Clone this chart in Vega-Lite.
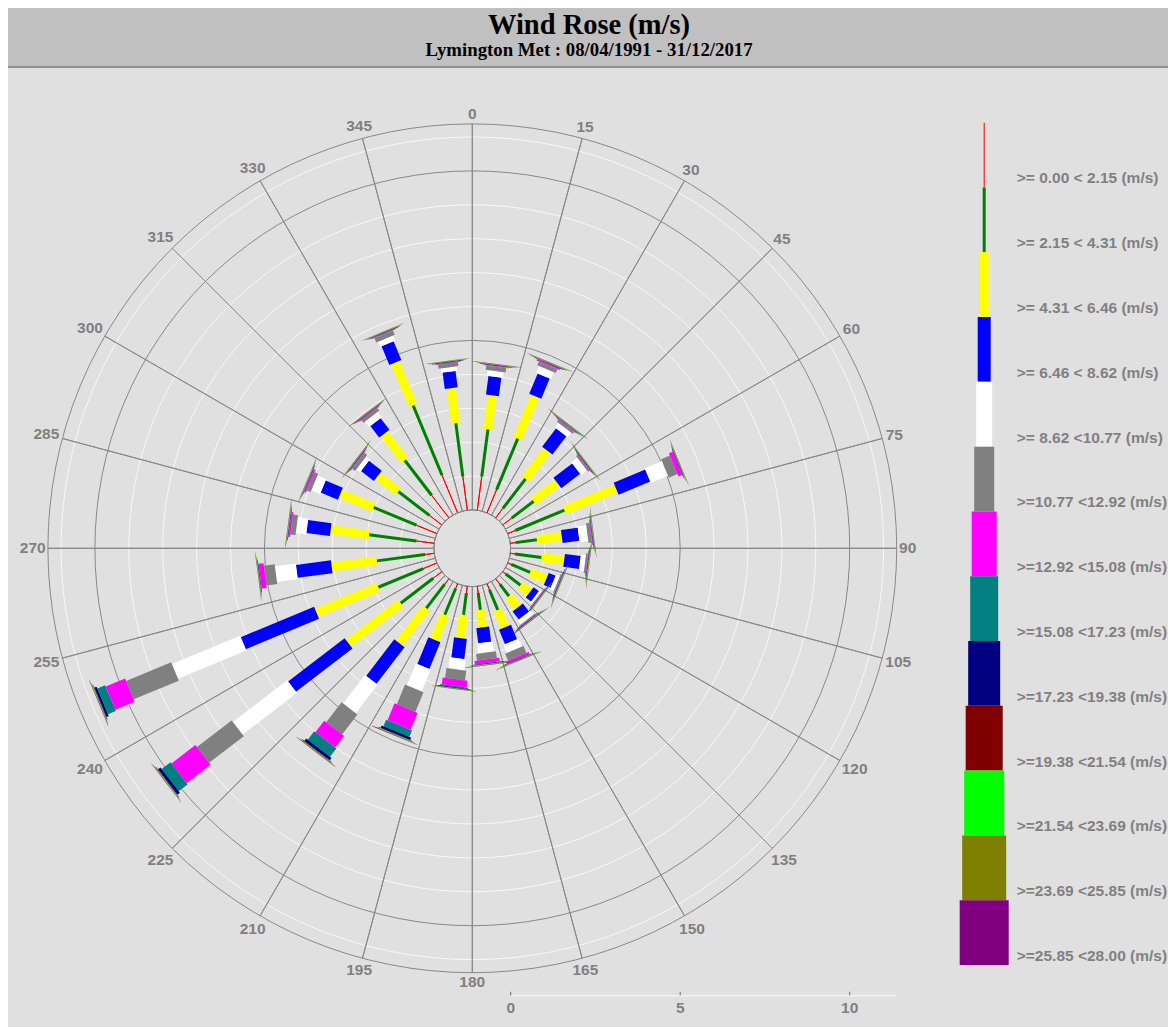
{
  "$schema": "https://vega.github.io/schema/vega-lite/v6.json",
  "width": 1160,
  "height": 1019,
  "padding": {"left": 8, "top": 8, "right": 0, "bottom": 0},
  "autosize": {"type": "none"},
  "background": "#ffffff",
  "config": {"view": {"fill": "#e0e0e0", "stroke": null}},
  "datasets": {
    "spokes": [{"deg":0},{"deg":15},{"deg":30},{"deg":45},{"deg":60},{"deg":75},{"deg":90},{"deg":105},{"deg":120},{"deg":135},{"deg":150},{"deg":165},{"deg":180},{"deg":195},{"deg":210},{"deg":225},{"deg":240},{"deg":255},{"deg":270},{"deg":285},{"deg":300},{"deg":315},{"deg":330},{"deg":345}],
    "minorRings": [{"v":1},{"v":2},{"v":3},{"v":4},{"v":6},{"v":7},{"v":8},{"v":9},{"v":11}],
    "majorRings": [{"v":5},{"v":10},{"v":11.3864}],
    "ticks": [{"v":0},{"v":5},{"v":10}],
    "legend": [
      {"cat":1,"label":">= 0.00 < 2.15 (m/s)"},
      {"cat":2,"label":">= 2.15 < 4.31 (m/s)"},
      {"cat":3,"label":">= 4.31 < 6.46 (m/s)"},
      {"cat":4,"label":">= 6.46 < 8.62 (m/s)"},
      {"cat":5,"label":">= 8.62 <10.77 (m/s)"},
      {"cat":6,"label":">=10.77 <12.92 (m/s)"},
      {"cat":7,"label":">=12.92 <15.08 (m/s)"},
      {"cat":8,"label":">=15.08 <17.23 (m/s)"},
      {"cat":9,"label":">=17.23 <19.38 (m/s)"},
      {"cat":10,"label":">=19.38 <21.54 (m/s)"},
      {"cat":11,"label":">=21.54 <23.69 (m/s)"},
      {"cat":12,"label":">=23.69 <25.85 (m/s)"},
      {"cat":13,"label":">=25.85 <28.00 (m/s)"}
    ],
    "bars": [
      {"dir":7.5,"cat":1,"len":1.0},{"dir":7.5,"cat":2,"len":1.41},{"dir":7.5,"cat":3,"len":1.01},{"dir":7.5,"cat":4,"len":0.55},{"dir":7.5,"cat":5,"len":0.17},{"dir":7.5,"cat":6,"len":0.13},{"dir":7.5,"cat":7,"len":0.02},{"dir":7.5,"cat":8,"len":0.01},{"dir":7.5,"cat":9,"len":0.01},{"dir":7.5,"cat":10,"len":0.01},{"dir":7.5,"cat":11,"len":0.012},{"dir":7.5,"cat":12,"len":0.01},{"dir":7.5,"cat":13,"len":0.006},
      {"dir":22.5,"cat":1,"len":0.74},{"dir":22.5,"cat":2,"len":1.63},{"dir":22.5,"cat":3,"len":1.35},{"dir":22.5,"cat":4,"len":0.65},{"dir":22.5,"cat":5,"len":0.22},{"dir":22.5,"cat":6,"len":0.12},{"dir":22.5,"cat":7,"len":0.04},{"dir":22.5,"cat":8,"len":0.01},{"dir":22.5,"cat":9,"len":0.012},{"dir":22.5,"cat":10,"len":0.01},{"dir":22.5,"cat":11,"len":0.012},{"dir":22.5,"cat":12,"len":0.01},{"dir":22.5,"cat":13,"len":0.006},
      {"dir":37.5,"cat":1,"len":0.35},{"dir":37.5,"cat":2,"len":1.1},{"dir":37.5,"cat":3,"len":1.05},{"dir":37.5,"cat":4,"len":0.68},{"dir":37.5,"cat":5,"len":0.17},{"dir":37.5,"cat":6,"len":0.07},{"dir":37.5,"cat":7,"len":0.02},{"dir":37.5,"cat":8,"len":0.01},{"dir":37.5,"cat":9,"len":0.012},{"dir":37.5,"cat":10,"len":0.01},{"dir":37.5,"cat":11,"len":0.012},{"dir":37.5,"cat":12,"len":0.01},{"dir":37.5,"cat":13,"len":0.006},
      {"dir":52.5,"cat":1,"len":0.33},{"dir":52.5,"cat":2,"len":0.82},{"dir":52.5,"cat":3,"len":0.88},{"dir":52.5,"cat":4,"len":0.7},{"dir":52.5,"cat":5,"len":0.22},{"dir":52.5,"cat":6,"len":0.06},{"dir":52.5,"cat":7,"len":0.02},{"dir":52.5,"cat":8,"len":0.01},{"dir":52.5,"cat":9,"len":0.012},{"dir":52.5,"cat":10,"len":0.01},{"dir":52.5,"cat":11,"len":0.012},{"dir":52.5,"cat":12,"len":0.01},{"dir":52.5,"cat":13,"len":0.006},
      {"dir":67.5,"cat":1,"len":0.24},{"dir":67.5,"cat":2,"len":1.57},{"dir":67.5,"cat":3,"len":1.65},{"dir":67.5,"cat":4,"len":1.01},{"dir":67.5,"cat":5,"len":0.55},{"dir":67.5,"cat":6,"len":0.28},{"dir":67.5,"cat":7,"len":0.12},{"dir":67.5,"cat":8,"len":0.01},{"dir":67.5,"cat":9,"len":0.012},{"dir":67.5,"cat":10,"len":0.01},{"dir":67.5,"cat":11,"len":0.012},{"dir":67.5,"cat":12,"len":0.01},{"dir":67.5,"cat":13,"len":0.006},
      {"dir":82.5,"cat":1,"len":0.15},{"dir":82.5,"cat":2,"len":0.64},{"dir":82.5,"cat":3,"len":0.74},{"dir":82.5,"cat":4,"len":0.5},{"dir":82.5,"cat":5,"len":0.26},{"dir":82.5,"cat":6,"len":0.1},{"dir":82.5,"cat":7,"len":0.02},{"dir":82.5,"cat":8,"len":0.01},{"dir":82.5,"cat":9,"len":0.012},{"dir":82.5,"cat":10,"len":0.01},{"dir":82.5,"cat":11,"len":0.012},{"dir":82.5,"cat":12,"len":0.01},{"dir":82.5,"cat":13,"len":0.006},
      {"dir":97.5,"cat":1,"len":0.14},{"dir":97.5,"cat":2,"len":0.79},{"dir":97.5,"cat":3,"len":0.67},{"dir":97.5,"cat":4,"len":0.47},{"dir":97.5,"cat":5,"len":0.15},{"dir":97.5,"cat":6,"len":0.05},{"dir":97.5,"cat":7,"len":0.02},{"dir":97.5,"cat":8,"len":0.01},{"dir":97.5,"cat":9,"len":0.012},{"dir":97.5,"cat":10,"len":0.01},{"dir":97.5,"cat":11,"len":0.012},{"dir":97.5,"cat":12,"len":0.01},{"dir":97.5,"cat":13,"len":0.006},
      {"dir":112.5,"cat":1,"len":0.11},{"dir":112.5,"cat":2,"len":0.61},{"dir":112.5,"cat":3,"len":0.51},{"dir":112.5,"cat":4,"len":0.22},{"dir":112.5,"cat":5,"len":0.12},{"dir":112.5,"cat":6,"len":0.03},{"dir":112.5,"cat":7,"len":0.015},{"dir":112.5,"cat":8,"len":0.01},{"dir":112.5,"cat":9,"len":0.012},{"dir":112.5,"cat":10,"len":0.01},{"dir":112.5,"cat":11,"len":0.012},{"dir":112.5,"cat":12,"len":0.01},{"dir":112.5,"cat":13,"len":0.006},
      {"dir":127.5,"cat":1,"len":0.11},{"dir":127.5,"cat":2,"len":0.55},{"dir":127.5,"cat":3,"len":0.34},{"dir":127.5,"cat":4,"len":0.2},{"dir":127.5,"cat":5,"len":0.07},{"dir":127.5,"cat":6,"len":0.02},{"dir":127.5,"cat":7,"len":0.015},{"dir":127.5,"cat":8,"len":0.01},{"dir":127.5,"cat":9,"len":0.012},{"dir":127.5,"cat":10,"len":0.01},{"dir":127.5,"cat":11,"len":0.012},{"dir":127.5,"cat":12,"len":0.01},{"dir":127.5,"cat":13,"len":0.006},
      {"dir":142.5,"cat":1,"len":0.2},{"dir":142.5,"cat":2,"len":0.45},{"dir":142.5,"cat":3,"len":0.42},{"dir":142.5,"cat":4,"len":0.3},{"dir":142.5,"cat":5,"len":0.15},{"dir":142.5,"cat":6,"len":0.03},{"dir":142.5,"cat":7,"len":0.015},{"dir":142.5,"cat":8,"len":0.01},{"dir":142.5,"cat":9,"len":0.012},{"dir":142.5,"cat":10,"len":0.01},{"dir":142.5,"cat":11,"len":0.012},{"dir":142.5,"cat":12,"len":0.01},{"dir":142.5,"cat":13,"len":0.006},
      {"dir":157.5,"cat":1,"len":0.19},{"dir":157.5,"cat":2,"len":0.65},{"dir":157.5,"cat":3,"len":0.55},{"dir":157.5,"cat":4,"len":0.46},{"dir":157.5,"cat":5,"len":0.26},{"dir":157.5,"cat":6,"len":0.22},{"dir":157.5,"cat":7,"len":0.07},{"dir":157.5,"cat":8,"len":0.01},{"dir":157.5,"cat":9,"len":0.012},{"dir":157.5,"cat":10,"len":0.01},{"dir":157.5,"cat":11,"len":0.012},{"dir":157.5,"cat":12,"len":0.01},{"dir":157.5,"cat":13,"len":0.006},
      {"dir":172.5,"cat":1,"len":0.2},{"dir":172.5,"cat":2,"len":0.5},{"dir":172.5,"cat":3,"len":0.52},{"dir":172.5,"cat":4,"len":0.45},{"dir":172.5,"cat":5,"len":0.3},{"dir":172.5,"cat":6,"len":0.2},{"dir":172.5,"cat":7,"len":0.11},{"dir":172.5,"cat":8,"len":0.01},{"dir":172.5,"cat":9,"len":0.012},{"dir":172.5,"cat":10,"len":0.01},{"dir":172.5,"cat":11,"len":0.012},{"dir":172.5,"cat":12,"len":0.01},{"dir":172.5,"cat":13,"len":0.006},
      {"dir":187.5,"cat":1,"len":0.2},{"dir":187.5,"cat":2,"len":0.65},{"dir":187.5,"cat":3,"len":0.69},{"dir":187.5,"cat":4,"len":0.6},{"dir":187.5,"cat":5,"len":0.33},{"dir":187.5,"cat":6,"len":0.29},{"dir":187.5,"cat":7,"len":0.2},{"dir":187.5,"cat":8,"len":0.04},{"dir":187.5,"cat":9,"len":0.015},{"dir":187.5,"cat":10,"len":0.01},{"dir":187.5,"cat":11,"len":0.012},{"dir":187.5,"cat":12,"len":0.01},{"dir":187.5,"cat":13,"len":0.006},
      {"dir":202.5,"cat":1,"len":0.15},{"dir":202.5,"cat":2,"len":0.84},{"dir":202.5,"cat":3,"len":0.8},{"dir":202.5,"cat":4,"len":0.85},{"dir":202.5,"cat":5,"len":0.7},{"dir":202.5,"cat":6,"len":0.63},{"dir":202.5,"cat":7,"len":0.54},{"dir":202.5,"cat":8,"len":0.21},{"dir":202.5,"cat":9,"len":0.07},{"dir":202.5,"cat":10,"len":0.02},{"dir":202.5,"cat":11,"len":0.015},{"dir":202.5,"cat":12,"len":0.012},{"dir":202.5,"cat":13,"len":0.01},
      {"dir":217.5,"cat":1,"len":0.2},{"dir":217.5,"cat":2,"len":0.9},{"dir":217.5,"cat":3,"len":1.3},{"dir":217.5,"cat":4,"len":1.36},{"dir":217.5,"cat":5,"len":1.06},{"dir":217.5,"cat":6,"len":0.74},{"dir":217.5,"cat":7,"len":0.43},{"dir":217.5,"cat":8,"len":0.31},{"dir":217.5,"cat":9,"len":0.09},{"dir":217.5,"cat":10,"len":0.02},{"dir":217.5,"cat":11,"len":0.015},{"dir":217.5,"cat":12,"len":0.012},{"dir":217.5,"cat":13,"len":0.01},
      {"dir":232.5,"cat":1,"len":0.32},{"dir":232.5,"cat":2,"len":1.21},{"dir":232.5,"cat":3,"len":1.94},{"dir":232.5,"cat":4,"len":2.1},{"dir":232.5,"cat":5,"len":2.02},{"dir":232.5,"cat":6,"len":1.29},{"dir":232.5,"cat":7,"len":0.89},{"dir":232.5,"cat":8,"len":0.33},{"dir":232.5,"cat":9,"len":0.09},{"dir":232.5,"cat":10,"len":0.02},{"dir":232.5,"cat":11,"len":0.015},{"dir":232.5,"cat":12,"len":0.012},{"dir":232.5,"cat":13,"len":0.01},
      {"dir":247.5,"cat":1,"len":0.43},{"dir":247.5,"cat":2,"len":1.44},{"dir":247.5,"cat":3,"len":1.97},{"dir":247.5,"cat":4,"len":2.34},{"dir":247.5,"cat":5,"len":2.18},{"dir":247.5,"cat":6,"len":1.44},{"dir":247.5,"cat":7,"len":0.62},{"dir":247.5,"cat":8,"len":0.25},{"dir":247.5,"cat":9,"len":0.07},{"dir":247.5,"cat":10,"len":0.02},{"dir":247.5,"cat":11,"len":0.015},{"dir":247.5,"cat":12,"len":0.012},{"dir":247.5,"cat":13,"len":0.01},
      {"dir":262.5,"cat":1,"len":0.27},{"dir":262.5,"cat":2,"len":1.44},{"dir":262.5,"cat":3,"len":1.34},{"dir":262.5,"cat":4,"len":1.04},{"dir":262.5,"cat":5,"len":0.62},{"dir":262.5,"cat":6,"len":0.32},{"dir":262.5,"cat":7,"len":0.15},{"dir":262.5,"cat":8,"len":0.01},{"dir":262.5,"cat":9,"len":0.012},{"dir":262.5,"cat":10,"len":0.01},{"dir":262.5,"cat":11,"len":0.012},{"dir":262.5,"cat":12,"len":0.01},{"dir":262.5,"cat":13,"len":0.006},
      {"dir":277.5,"cat":1,"len":0.53},{"dir":277.5,"cat":2,"len":1.41},{"dir":277.5,"cat":3,"len":1.14},{"dir":277.5,"cat":4,"len":0.7},{"dir":277.5,"cat":5,"len":0.31},{"dir":277.5,"cat":6,"len":0.15},{"dir":277.5,"cat":7,"len":0.05},{"dir":277.5,"cat":8,"len":0.01},{"dir":277.5,"cat":9,"len":0.012},{"dir":277.5,"cat":10,"len":0.01},{"dir":277.5,"cat":11,"len":0.012},{"dir":277.5,"cat":12,"len":0.01},{"dir":277.5,"cat":13,"len":0.006},
      {"dir":292.5,"cat":1,"len":0.65},{"dir":292.5,"cat":2,"len":1.37},{"dir":292.5,"cat":3,"len":1.06},{"dir":292.5,"cat":4,"len":0.55},{"dir":292.5,"cat":5,"len":0.28},{"dir":292.5,"cat":6,"len":0.12},{"dir":292.5,"cat":7,"len":0.05},{"dir":292.5,"cat":8,"len":0.01},{"dir":292.5,"cat":9,"len":0.012},{"dir":292.5,"cat":10,"len":0.01},{"dir":292.5,"cat":11,"len":0.012},{"dir":292.5,"cat":12,"len":0.01},{"dir":292.5,"cat":13,"len":0.006},
      {"dir":307.5,"cat":1,"len":0.46},{"dir":307.5,"cat":2,"len":1.16},{"dir":307.5,"cat":3,"len":0.76},{"dir":307.5,"cat":4,"len":0.48},{"dir":307.5,"cat":5,"len":0.14},{"dir":307.5,"cat":6,"len":0.11},{"dir":307.5,"cat":7,"len":0.02},{"dir":307.5,"cat":8,"len":0.01},{"dir":307.5,"cat":9,"len":0.012},{"dir":307.5,"cat":10,"len":0.01},{"dir":307.5,"cat":11,"len":0.012},{"dir":307.5,"cat":12,"len":0.01},{"dir":307.5,"cat":13,"len":0.006},
      {"dir":322.5,"cat":1,"len":0.83},{"dir":322.5,"cat":2,"len":1.31},{"dir":322.5,"cat":3,"len":0.99},{"dir":322.5,"cat":4,"len":0.43},{"dir":322.5,"cat":5,"len":0.2},{"dir":322.5,"cat":6,"len":0.1},{"dir":322.5,"cat":7,"len":0.02},{"dir":322.5,"cat":8,"len":0.01},{"dir":322.5,"cat":9,"len":0.012},{"dir":322.5,"cat":10,"len":0.01},{"dir":322.5,"cat":11,"len":0.012},{"dir":322.5,"cat":12,"len":0.01},{"dir":322.5,"cat":13,"len":0.006},
      {"dir":337.5,"cat":1,"len":1.2},{"dir":337.5,"cat":2,"len":2.23},{"dir":337.5,"cat":3,"len":1.37},{"dir":337.5,"cat":4,"len":0.6},{"dir":337.5,"cat":5,"len":0.16},{"dir":337.5,"cat":6,"len":0.14},{"dir":337.5,"cat":7,"len":0.02},{"dir":337.5,"cat":8,"len":0.01},{"dir":337.5,"cat":9,"len":0.012},{"dir":337.5,"cat":10,"len":0.01},{"dir":337.5,"cat":11,"len":0.012},{"dir":337.5,"cat":12,"len":0.01},{"dir":337.5,"cat":13,"len":0.006},
      {"dir":352.5,"cat":1,"len":1.0},{"dir":352.5,"cat":2,"len":1.59},{"dir":352.5,"cat":3,"len":1.04},{"dir":352.5,"cat":4,"len":0.49},{"dir":352.5,"cat":5,"len":0.13},{"dir":352.5,"cat":6,"len":0.12},{"dir":352.5,"cat":7,"len":0.02},{"dir":352.5,"cat":8,"len":0.01},{"dir":352.5,"cat":9,"len":0.012},{"dir":352.5,"cat":10,"len":0.01},{"dir":352.5,"cat":11,"len":0.012},{"dir":352.5,"cat":12,"len":0.01},{"dir":352.5,"cat":13,"len":0.006}
    ]
  },
  "resolve": {"scale": {"x": "independent", "y": "independent"}},
  "layer": [
    {
      "layer": [
        {
          "data": {"values": [{}]},
          "mark": {"type": "rect", "color": "#c0c0c0"},
          "encoding": {
            "x": {"datum": -13.696, "type": "quantitative", "scale": {"type": "linear", "domain": [-13.696, 20.522], "nice": false, "zero": false}, "axis": null},
            "x2": {"datum": 20.522},
            "y": {"datum": 14.198, "type": "quantitative", "scale": {"type": "linear", "domain": [-14.121, 15.938], "nice": false, "zero": false}, "axis": null},
            "y2": {"datum": 15.938}
          }
        },
        {
          "data": {"values": [{}]},
          "mark": {"type": "rule", "color": "#8f8f8f", "strokeWidth": 2},
          "encoding": {
            "x": {"datum": -13.696, "type": "quantitative"},
            "x2": {"datum": 20.522},
            "y": {"datum": 14.198, "type": "quantitative"}
          }
        },
        {
          "data": {"values": [{}]},
          "mark": {"type": "text", "text": "Wind Rose (m/s)", "font": "Liberation Serif", "fontWeight": "bold", "fontSize": 28.5, "color": "#000000", "align": "center", "baseline": "middle"},
          "encoding": {
            "x": {"datum": 3.443, "type": "quantitative"},
            "y": {"datum": 15.437, "type": "quantitative"}
          }
        },
        {
          "data": {"values": [{}]},
          "mark": {"type": "text", "text": "Lymington Met : 08/04/1991 - 31/12/2017", "font": "Liberation Serif", "fontWeight": "bold", "fontSize": 18.8, "color": "#000000", "align": "center", "baseline": "middle"},
          "encoding": {
            "x": {"datum": 3.443, "type": "quantitative"},
            "y": {"datum": 14.699, "type": "quantitative"}
          }
        },
        {
          "data": {"name": "minorRings"},
          "mark": {"type": "arc", "filled": false, "stroke": "#f8f8f8", "strokeWidth": 1, "theta": 0, "theta2": 6.2832},
          "encoding": {
            "x": {"datum": 0, "type": "quantitative"},
            "y": {"datum": 0, "type": "quantitative"},
            "radius": {"field": "v", "type": "quantitative", "stack": null, "scale": {"type": "linear", "domain": [-1.1327, 11.3864], "range": [0, 424.4], "nice": false, "zero": false}}
          }
        },
        {
          "data": {"name": "majorRings"},
          "mark": {"type": "arc", "filled": false, "stroke": "#888888", "strokeWidth": 1, "theta": 0, "theta2": 6.2832},
          "encoding": {
            "x": {"datum": 0, "type": "quantitative"},
            "y": {"datum": 0, "type": "quantitative"},
            "radius": {"field": "v", "type": "quantitative", "stack": null, "scale": {"type": "linear", "domain": [-1.1327, 11.3864], "range": [0, 424.4], "nice": false, "zero": false}}
          }
        },
        {
          "data": {"name": "spokes"},
          "mark": {"type": "arc", "filled": false, "stroke": "#888888", "strokeWidth": 1},
          "encoding": {
            "x": {"datum": 0, "type": "quantitative"},
            "y": {"datum": 0, "type": "quantitative"},
            "theta": {"field": "deg", "type": "quantitative", "stack": null, "scale": {"type": "linear", "domain": [0, 360], "range": [0, 6.283185307], "nice": false, "zero": false}},
            "theta2": {"field": "deg"},
            "radius": {"datum": 0, "type": "quantitative", "stack": null, "scale": {"type": "linear", "domain": [-1.1327, 11.3864], "range": [0, 424.4], "nice": false, "zero": false}},
            "radius2": {"datum": 11.3864}
          }
        },
        {
          "data": {"name": "bars"},
          "transform": [{"stack": "len", "groupby": ["dir"], "sort": [{"field": "cat", "order": "ascending"}], "as": ["r0", "r1"]}],
          "mark": {"type": "arc", "filled": false, "strokeCap": "butt", "strokeJoin": "miter"},
          "encoding": {
            "x": {"datum": 0, "type": "quantitative"},
            "y": {"datum": 0, "type": "quantitative"},
            "theta": {"field": "dir", "type": "quantitative", "stack": null, "scale": {"type": "linear", "domain": [0, 360], "range": [0, 6.283185307], "nice": false, "zero": false}},
            "theta2": {"field": "dir"},
            "radius": {"field": "r0", "type": "quantitative", "stack": null, "scale": {"type": "linear", "domain": [-1.1327, 11.3864], "range": [0, 424.4], "nice": false, "zero": false}},
            "radius2": {"field": "r1"},
            "stroke": {"field": "cat", "type": "ordinal", "scale": {"domain": [1,2,3,4,5,6,7,8,9,10,11,12,13], "range": ["#ff0000","#008000","#ffff00","#0000ff","#ffffff","#808080","#ff00ff","#008080","#000080","#800000","#00ff00","#808000","#800080"]}, "legend": null},
            "strokeWidth": {"field": "cat", "type": "quantitative", "scale": {"type": "threshold", "domain": [1.5,2.5,3.5,4.5,5.5,6.5,7.5,8.5,9.5,10.5,11.5,12.5], "range": [1,3,9,13,16,20,25,28,32,37,40,44,49]}, "legend": null}
          }
        },
        {
          "data": {"name": "spokes"},
          "transform": [
            {"calculate": "(427 + 4.2*length(toString(datum.deg))*abs(sin(datum.deg*PI/180)) + 7*abs(cos(datum.deg*PI/180)))/33.9", "as": "R"},
            {"calculate": "datum.R*sin(datum.deg*PI/180)", "as": "lx"},
            {"calculate": "datum.R*cos(datum.deg*PI/180)", "as": "ly"}
          ],
          "mark": {"type": "text", "font": "Liberation Sans", "fontWeight": "bold", "fontSize": 15.5, "color": "#808080", "align": "center", "baseline": "middle"},
          "encoding": {
            "x": {"field": "lx", "type": "quantitative"},
            "y": {"field": "ly", "type": "quantitative"},
            "text": {"field": "deg", "type": "quantitative"}
          }
        }
      ]
    },
    {
      "layer": [
        {
          "data": {"values": [{}]},
          "mark": {"type": "rule", "color": "#f4f4f4", "strokeWidth": 1.5},
          "encoding": {
            "x": {"datum": 0, "type": "quantitative", "scale": {"type": "linear", "domain": [-14.829, 19.389], "nice": false, "zero": false}, "axis": null},
            "x2": {"datum": 11.3864},
            "y": {"datum": -13.198, "type": "quantitative", "scale": {"type": "linear", "domain": [-14.121, 15.938], "nice": false, "zero": false}, "axis": null}
          }
        },
        {
          "data": {"name": "ticks"},
          "mark": {"type": "rule", "color": "#707070", "strokeWidth": 1},
          "encoding": {
            "x": {"field": "v", "type": "quantitative"},
            "y": {"datum": -13.085, "type": "quantitative"},
            "y2": {"datum": -13.19}
          }
        },
        {
          "data": {"name": "ticks"},
          "mark": {"type": "text", "font": "Liberation Sans", "fontWeight": "bold", "fontSize": 15.5, "color": "#808080", "align": "center", "baseline": "middle"},
          "encoding": {
            "x": {"field": "v", "type": "quantitative"},
            "y": {"datum": -13.56, "type": "quantitative"},
            "text": {"field": "v", "type": "quantitative"}
          }
        }
      ]
    },
    {
      "layer": [
        {
          "data": {"name": "legend"},
          "mark": {"type": "rule", "strokeCap": "butt"},
          "encoding": {
            "x": {"datum": 15.1, "type": "quantitative", "scale": {"type": "linear", "domain": [-13.696, 20.522], "nice": false, "zero": false}, "axis": null},
            "y": {"field": "cat", "type": "ordinal", "bandPosition": 0, "scale": {"type": "band", "domain": [1,2,3,4,5,6,7,8,9,10,11,12,13], "range": [114.7, 957], "paddingInner": 0, "paddingOuter": 0}, "axis": null},
            "y2": {"field": "cat", "bandPosition": 1},
            "stroke": {"field": "cat", "type": "ordinal", "scale": {"domain": [1,2,3,4,5,6,7,8,9,10,11,12,13], "range": ["#ff0000","#008000","#ffff00","#0000ff","#ffffff","#808080","#ff00ff","#008080","#000080","#800000","#00ff00","#808000","#800080"]}, "legend": null},
            "strokeWidth": {"field": "cat", "type": "quantitative", "scale": {"type": "threshold", "domain": [1.5,2.5,3.5,4.5,5.5,6.5,7.5,8.5,9.5,10.5,11.5,12.5], "range": [1,3,9,13,16,20,25,28,32,37,40,44,49]}, "legend": null}
          }
        },
        {
          "data": {"name": "legend"},
          "mark": {"type": "text", "font": "Liberation Sans", "fontWeight": "bold", "fontSize": 15.5, "color": "#808080", "align": "left", "baseline": "middle"},
          "encoding": {
            "x": {"datum": 16.06, "type": "quantitative"},
            "y": {"field": "cat", "type": "ordinal", "bandPosition": 0.86},
            "text": {"field": "label", "type": "nominal"}
          }
        }
      ]
    }
  ]
}
